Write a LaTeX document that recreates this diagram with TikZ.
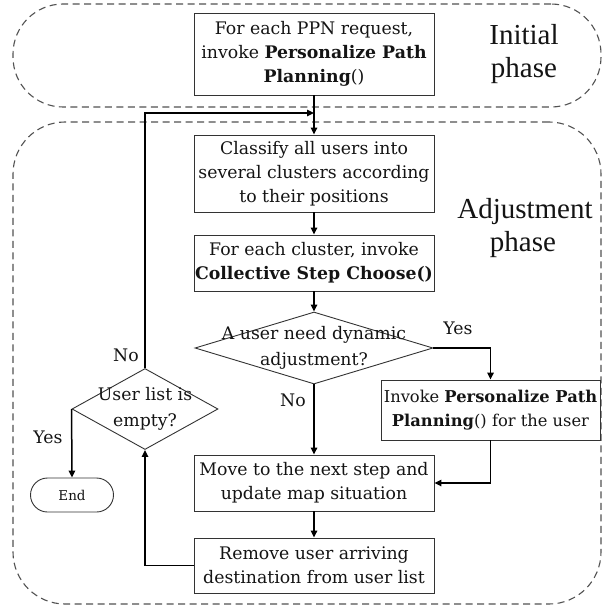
\documentclass[tikz,border=0pt]{standalone}
\usepackage{fontspec}
\setmainfont{DejaVu Serif}
\newfontfamily\phasefont{Liberation Serif}
\usetikzlibrary{shapes.geometric,arrows.meta}
\tikzset{
  region/.style={draw=black!68, dash pattern=on 7pt off 4.5pt, line width=1.1pt, rounded corners=50pt, rectangle, inner sep=0pt},
  procbox/.style={draw=black!80, line width=0.9pt, rectangle, minimum width=240pt, align=center, inner sep=0pt, font=\fontsize{17.3}{24}\selectfont, text=black!92},
  decision/.style={draw=black!80, shape=diamond, line width=0.9pt, inner sep=0pt},
  dtext/.style={align=center, inner sep=0pt, font=\fontsize{17.3}{26}\selectfont, text=black!92},
  lbl/.style={inner sep=0pt, font=\fontsize{17.3}{20}\selectfont, text=black!92},
  phaselbl/.style={inner sep=0pt, anchor=base, font=\phasefont\fontsize{29}{33}\selectfont, text=black!92},
  terminal/.style={draw=black!80, line width=0.9pt, rectangle, rounded corners=17pt, minimum width=83pt, minimum height=34pt, inner sep=0pt, font=\fontsize{13.5}{15}\selectfont, text=black!92},
  flow/.style={-{Triangle[length=7pt,width=6.5pt]}, line width=1.5pt, black}
}
\begin{document}
\begin{tikzpicture}[x=1pt,y=-1pt]
\useasboundingbox (0,0) rectangle (603,607);
\fill[white] (0,0) rectangle (603,607);
% regions
\node[region, minimum width=588pt, minimum height=103pt] (initreg) at (307,55.5) {};
\node[region, minimum width=588pt, minimum height=482pt, rounded corners=52pt] (adjreg) at (307,363) {};
% phase labels
\node[phaselbl] (initl1) at (524,45) {Initial};
\node[phaselbl] (initl2) at (524,78) {phase};
\node[phaselbl] (adjl1) at (525,218) {Adjustment};
\node[phaselbl] (adjl2) at (523,251) {phase};
% boxes
\node[procbox, minimum height=82pt] (b1) at (314,54) {For each PPN request,\\invoke \textbf{Personalize Path}\\\textbf{Planning}()};
\node[procbox, minimum height=77pt] (b2) at (314,173.5) {Classify all users into\\several clusters according\\to their positions};
\node[procbox, minimum height=56pt] (b3) at (314,263) {For each cluster, invoke\\\textbf{Collective Step Choose()}};
\node[decision, minimum width=238pt, minimum height=72pt] (d2) at (314,348) {};
\node[dtext] (d2t) at (314,348) {A user need dynamic\\adjustment?};
\node[procbox, minimum width=219pt, minimum height=60pt, font=\fontsize{16.3}{24}\selectfont] (b4) at (490.5,410) {Invoke \textbf{Personalize Path}\\\textbf{Planning}() for the user};
\node[procbox, minimum height=56pt] (mv) at (314,483) {Move to the next step and\\update map situation};
\node[procbox, minimum height=55pt] (rm) at (314,565.5) {Remove user arriving\\destination from user list};
\node[decision, minimum width=146pt, minimum height=81pt] (d1) at (145,409) {};
\node[dtext] (d1t) at (145,409) {User list is\\empty?};
\node[terminal] (endn) at (72,495) {End};
% labels
\node[lbl] (no1) at (126,355) {No};
\node[lbl] (yes1) at (48,437) {Yes};
\node[lbl] (yes2) at (458,328) {Yes};
\node[lbl] (no2) at (293,400) {No};
% connectors
\coordinate (jn) at (314,113);
\draw[flow] (b1.south) -- (b2.north);
\draw[flow] (b2.south) -- (b3.north);
\draw[flow] (b3.south) -- (d2.north);
\draw[flow] (d2.east) -| (b4.north);
\draw[flow] (d2.south) -- (mv.north);
\draw[flow] (b4.south) |- (mv.east);
\draw[flow] (mv.south) -- (rm.north);
\draw[flow] (rm.west) -| (d1.south);
\draw[flow] (d1.north) |- (jn);
\draw[flow] (d1.west) -- (endn.north);
\end{tikzpicture}
\end{document}
